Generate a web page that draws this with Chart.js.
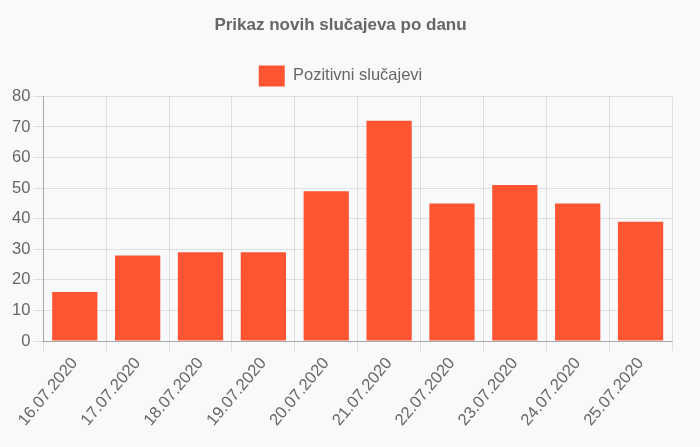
<!DOCTYPE html>
<html>
<head>
<meta charset="utf-8">
<script src="https://cdn.jsdelivr.net/npm/chart.js@4"></script>
<style>
    body { margin: 0; background: #f8f9fa; }
    #wrap { width: 700px; height: 447px; }
</style>
</head>
<body>
<div id="wrap"><canvas id="barChart"></canvas></div>
<script>
const dates = ["16.07.2020", "17.07.2020", "18.07.2020", "19.07.2020", "20.07.2020",
    "21.07.2020", "22.07.2020", "23.07.2020", "24.07.2020", "25.07.2020"];
const positive = [16, 28, 29, 29, 49, 72, 45, 51, 45, 39];

const ctx = document.getElementById("barChart").getContext("2d");

new Chart(ctx, {
    type: 'bar',
    data: {
        labels: dates,
        datasets: [{
            label: "Pozitivni slučajevi",
            data: positive,
            backgroundColor: "#ff5533"
        }]
    },
    options: {
        responsive: true,
        maintainAspectRatio: false,
        animation: false,
        layout: { padding: { left: 9, right: 28, top: 2, bottom: 14 } },
        plugins: {
            title: {
                display: true,
                text: "Prikaz novih slučajeva po danu",
                color: "#666",
                font: { family: "Arial, Liberation Sans", size: 17, weight: "bold" },
                padding: { top: 13, bottom: 20 }
            },
            legend: {
                labels: {
                    color: "#666",
                    boxWidth: 26,
                    boxHeight: 21,
                    font: { family: "Arial, Liberation Sans", size: 16.5 }
                }
            },
            tooltip: { enabled: false }
        },
        scales: {
            x: {
                grid: { color: "rgba(0,0,0,0.1)", tickLength: 10 },
                border: { color: "rgba(0,0,0,0.25)" },
                ticks: {
                    color: "#666",
                    minRotation: 50,
                    maxRotation: 50,
                    font: { family: "Arial, Liberation Sans", size: 16.5 }
                }
            },
            y: {
                beginAtZero: true,
                max: 80,
                grid: { color: "rgba(0,0,0,0.1)", tickLength: 10 },
                border: { color: "rgba(0,0,0,0.25)" },
                ticks: {
                    stepSize: 10,
                    color: "#666",
                    font: { family: "Arial, Liberation Sans", size: 16.5 }
                }
            }
        }
    }
});
</script>
</body>
</html>
